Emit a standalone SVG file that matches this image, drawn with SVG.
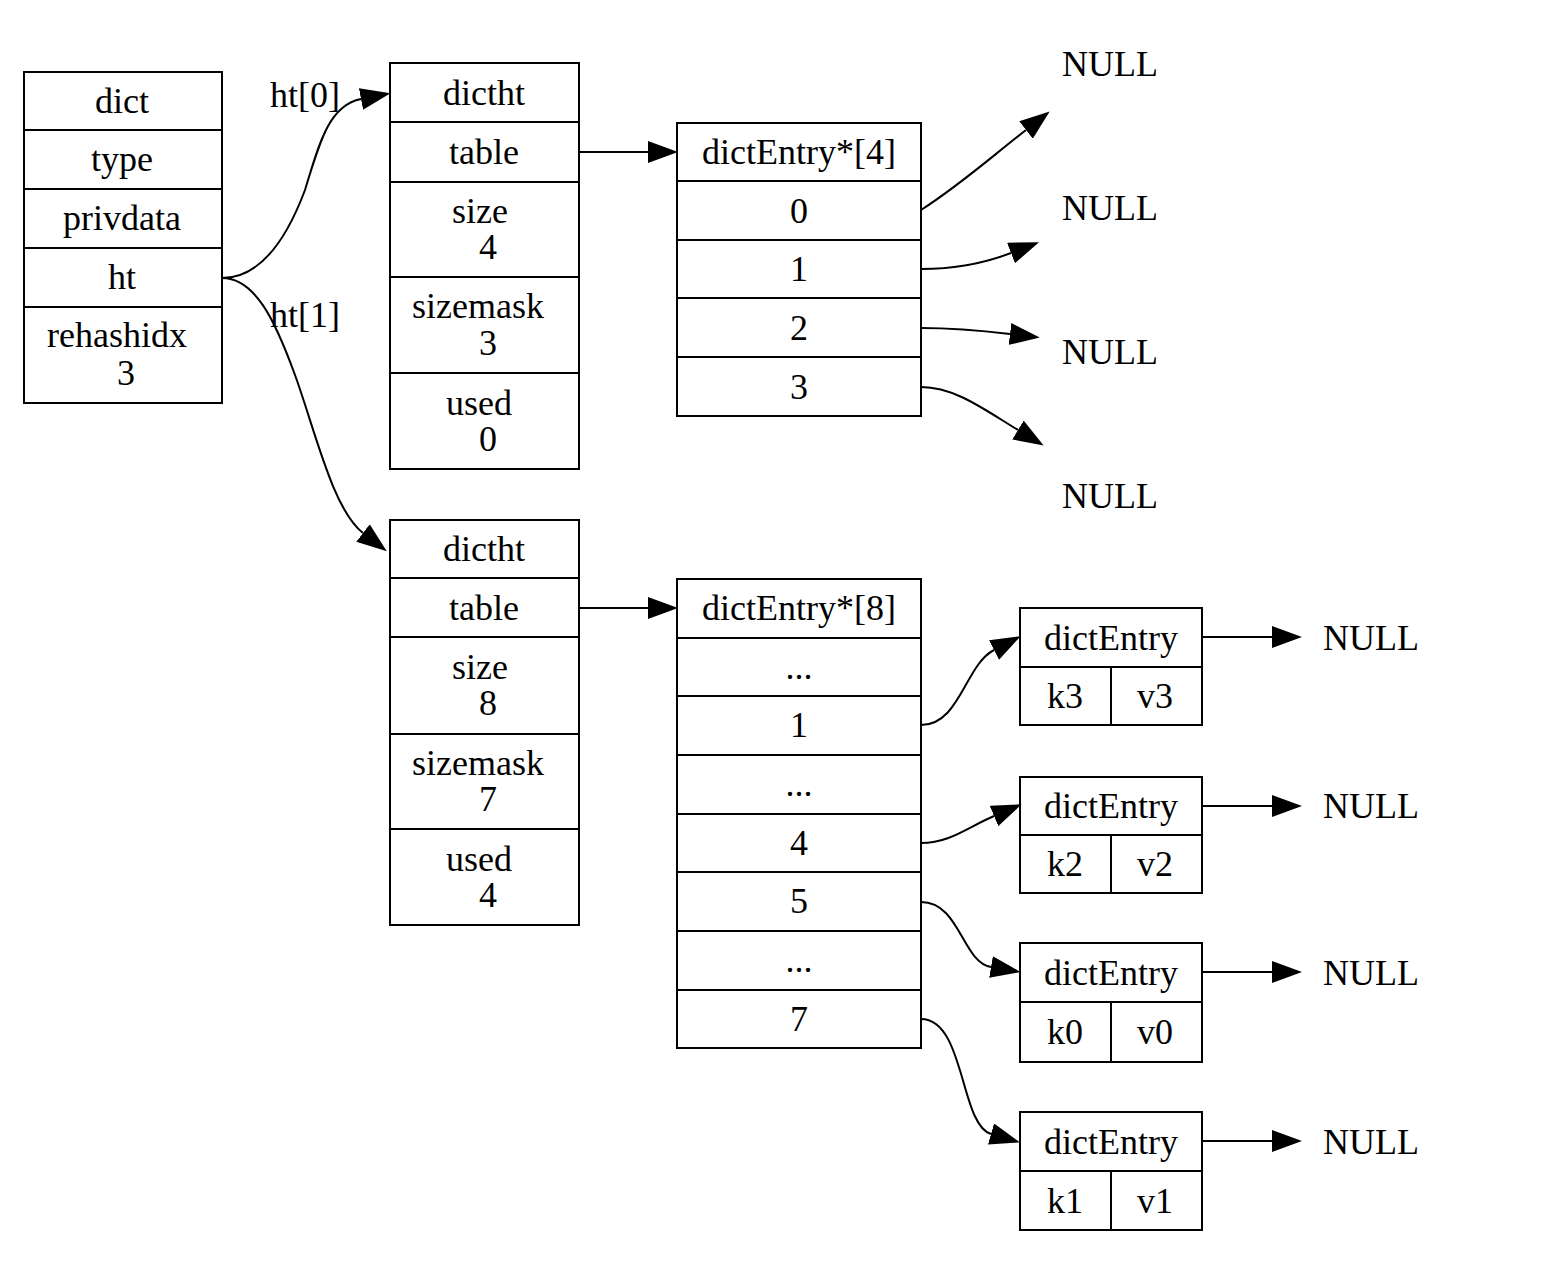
<svg xmlns="http://www.w3.org/2000/svg" width="1564" height="1266" viewBox="0 0 1564 1266">
<style>
  .box { fill: #fff; stroke: #000; stroke-width: 2; }
  .ln { stroke: #000; stroke-width: 2; fill: none; }
  text { font-family: "Liberation Serif", "Times New Roman", serif; font-size: 36px; fill: #000; }
  .c { text-anchor: middle; }
  .e { stroke: #000; stroke-width: 2; fill: none; marker-end: url(#arr); }
</style>
<defs>
  <marker id="arr" viewBox="0 0 30 22" markerWidth="30" markerHeight="22" refX="0" refY="11" orient="auto" markerUnits="userSpaceOnUse">
    <path d="M0,0 L30,11 L0,22 z" fill="#000"/>
  </marker>
</defs>
<rect width="1564" height="1266" fill="#fff"/>

<g id="dict">
  <rect class="box" x="24" y="72" width="198" height="331"/>
  <path class="ln" d="M24,130H222M24,189H222M24,248H222M24,307H222"/>
  <text class="c" x="122" y="113">dict</text>
  <text class="c" x="122" y="171">type</text>
  <text class="c" x="122" y="230">privdata</text>
  <text class="c" x="122" y="289">ht</text>
  <text class="c" x="117" y="347">rehashidx</text>
  <text class="c" x="126" y="385">3</text>
</g>

<g id="dictht0">
  <rect class="box" x="390" y="63" width="189" height="406"/>
  <path class="ln" d="M390,122H579M390,182H579M390,277H579M390,373H579"/>
  <text class="c" x="484" y="105">dictht</text>
  <text class="c" x="484" y="164">table</text>
  <text class="c" x="480" y="223">size</text>
  <text class="c" x="488" y="259">4</text>
  <text class="c" x="478" y="318">sizemask</text>
  <text class="c" x="488" y="355">3</text>
  <text class="c" x="479" y="415">used</text>
  <text class="c" x="488" y="451">0</text>
</g>

<g id="dictht1">
  <rect class="box" x="390" y="520" width="189" height="405"/>
  <path class="ln" d="M390,578H579M390,637H579M390,734H579M390,829H579"/>
  <text class="c" x="484" y="561">dictht</text>
  <text class="c" x="484" y="620">table</text>
  <text class="c" x="480" y="679">size</text>
  <text class="c" x="488" y="715">8</text>
  <text class="c" x="478" y="775">sizemask</text>
  <text class="c" x="488" y="811">7</text>
  <text class="c" x="479" y="871">used</text>
  <text class="c" x="488" y="907">4</text>
</g>

<g id="table4">
  <rect class="box" x="677" y="123" width="244" height="293"/>
  <path class="ln" d="M677,181H921M677,240H921M677,298H921M677,357H921"/>
  <text class="c" x="799" y="164">dictEntry*[4]</text>
  <text class="c" x="799" y="223">0</text>
  <text class="c" x="799" y="281">1</text>
  <text class="c" x="799" y="340">2</text>
  <text class="c" x="799" y="399">3</text>
</g>

<g id="table8">
  <rect class="box" x="677" y="579" width="244" height="469"/>
  <path class="ln" d="M677,638H921M677,696H921M677,755H921M677,814H921M677,872H921M677,931H921M677,990H921"/>
  <text class="c" x="799" y="620">dictEntry*[8]</text>
  <text class="c" x="799" y="679">...</text>
  <text class="c" x="799" y="737">1</text>
  <text class="c" x="799" y="796">...</text>
  <text class="c" x="799" y="855">4</text>
  <text class="c" x="799" y="913">5</text>
  <text class="c" x="799" y="972">...</text>
  <text class="c" x="799" y="1031">7</text>
</g>

<g id="null0"><text x="1062" y="76">NULL</text></g>
<g id="null1"><text x="1062" y="220">NULL</text></g>
<g id="null2"><text x="1062" y="364">NULL</text></g>
<g id="null3"><text x="1062" y="508">NULL</text></g>

<g id="entry3">
  <rect class="box" x="1020" y="608" width="182" height="117"/>
  <path class="ln" d="M1020,667H1202M1111,667V725"/>
  <text class="c" x="1111" y="650">dictEntry</text>
  <text class="c" x="1065" y="708">k3</text>
  <text class="c" x="1155" y="708">v3</text>
</g>
<g id="entry2">
  <rect class="box" x="1020" y="777" width="182" height="116"/>
  <path class="ln" d="M1020,835H1202M1111,835V893"/>
  <text class="c" x="1111" y="818">dictEntry</text>
  <text class="c" x="1065" y="876">k2</text>
  <text class="c" x="1155" y="876">v2</text>
</g>
<g id="entry0">
  <rect class="box" x="1020" y="943" width="182" height="119"/>
  <path class="ln" d="M1020,1002H1202M1111,1002V1062"/>
  <text class="c" x="1111" y="985">dictEntry</text>
  <text class="c" x="1065" y="1044">k0</text>
  <text class="c" x="1155" y="1044">v0</text>
</g>
<g id="entry1">
  <rect class="box" x="1020" y="1112" width="182" height="118"/>
  <path class="ln" d="M1020,1171H1202M1111,1171V1230"/>
  <text class="c" x="1111" y="1154">dictEntry</text>
  <text class="c" x="1065" y="1213">k1</text>
  <text class="c" x="1155" y="1213">v1</text>
</g>

<g id="nullE3"><text x="1323" y="650">NULL</text></g>
<g id="nullE2"><text x="1323" y="818">NULL</text></g>
<g id="nullE0"><text x="1323" y="985">NULL</text></g>
<g id="nullE1"><text x="1323" y="1154">NULL</text></g>

<g id="connectors">
  <path class="e" d="M222,278 C265,278 290,230 305,190 C320,140 330,105 361,99"/>
  <text x="270" y="107">ht[0]</text>
  <path class="e" d="M222,278 C255,278 275,320 295,375 C315,430 333,510 363,533"/>
  <text x="270" y="327">ht[1]</text>
  <path class="e" d="M579,152 L648,152"/>
  <path class="e" d="M579,608 L648,608"/>
  <path class="e" d="M921,210 C960,185 990,158 1026,130"/>
  <path class="e" d="M921,269 C955,269 985,263 1011,253"/>
  <path class="e" d="M921,328 C955,328 985,331 1010,334"/>
  <path class="e" d="M921,387 C955,387 985,410 1018,430"/>
  <path class="e" d="M921,725 C960,725 965,665 994,650"/>
  <path class="e" d="M921,843 C950,843 968,827 994,816"/>
  <path class="e" d="M921,902 C960,902 962,962 991,967"/>
  <path class="e" d="M921,1019 C965,1019 960,1125 991,1134"/>
  <path class="e" d="M1202,637 L1272,637"/>
  <path class="e" d="M1202,806 L1272,806"/>
  <path class="e" d="M1202,972 L1272,972"/>
  <path class="e" d="M1202,1141 L1272,1141"/>
</g>
</svg>
